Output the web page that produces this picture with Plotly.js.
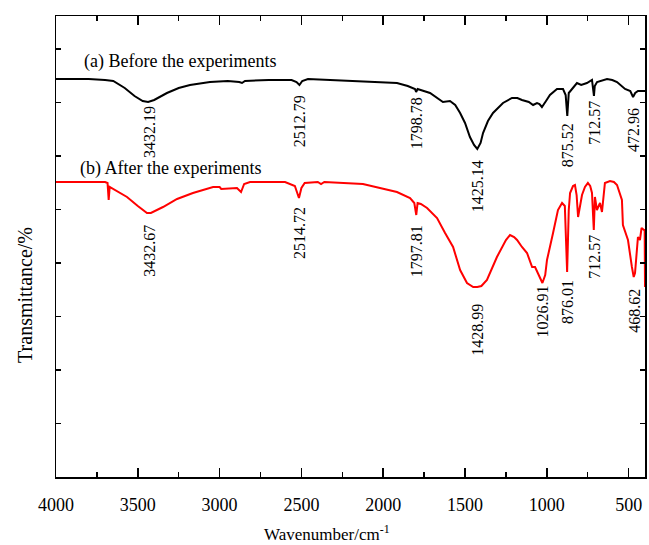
<!DOCTYPE html>
<html>
<head>
<meta charset="utf-8">
<script src="https://cdn.plot.ly/plotly-3.0.1.min.js"></script>
<style>html,body{margin:0;padding:0;background:#fff;}#chart{width:649px;height:545px;}</style>
</head>
<body>
<div id="chart"></div>
<script>
// Wavenumber (cm^-1) and transmittance (arbitrary units)
var wnBefore = [4000,3800,3700,3650,3580,3520,3470,3437,3400,3322,3250,3181,3059,2950,2880,2863,2845,2700,2560,2530,2512,2495,2460,2325,2100,1916,1850,1806,1799,1790,1714,1680,1635,1592,1560,1530,1500,1470,1445,1425,1405,1390,1360,1329,1268,1213,1180,1152,1110,1084,1060,1045,1030,1005,981,938,901,885,875,866,850,816,790,755,724,716,712,707,693,632,600,571,522,490,473,460,443,400];
var tBefore = [398,398,397,396,389,381,376,375,377,384,389,392,395,396,395,394,396,397,397,395,392,396,398,397,396,394,391,388,385,388,384,380,375,376,372,364,354,340,332,328,334,344,356,364,374,379,379,377,375,372,374,373,370,376,382,388,388,382,361,384,387,394,392,394,397,389,381,391,395,398,397,395,388,386,380,384,386,386];

var wnAfter = [4000,3800,3700,3685,3678,3672,3640,3566,3500,3444,3420,3346,3260,3163,3040,3000,2990,2894,2869,2850,2814,2600,2540,2515,2500,2480,2400,2380,2360,2124,1916,1836,1810,1798,1790,1770,1732,1671,1622,1573,1530,1488,1450,1425,1400,1366,1305,1250,1225,1200,1182,1165,1152,1121,1100,1090,1072,1050,1027,1010,999,962,932,907,890,876,866,858,840,828,818,809,800,785,767,749,735,724,713,706,694,675,663,645,614,590,571,541,535,504,480,469,461,443,431,421,406,402,400];
var tAfter = [295,295,295,294,277,290,287,280,271,264,264,270,278,284,290,290,288,289,285,293,295,295,291,279,289,294,295,293,295,293,285,279,274,262,274,273,269,259,244,230,207,194,190,190,191,197,220,237,242,240,237,233,230,224,214,210,210,202,194,202,217,244,267,274,271,205,267,284,291,292,282,260,267,282,290,294,291,284,247,280,267,274,265,294,296,295,292,277,252,237,210,200,204,240,237,249,247,247,190];

var peaksBefore = ["3432.19","2512.79","1798.78","1425.14","875.52","712.57","472.96"];
var peaksAfter = ["3432.67","2514.72","1797.81","1428.99","1026.91","876.01","712.57","468.62"];
var xTicks = [4000,3500,3000,2500,2000,1500,1000,500];
var seriesNames = ["(a) Before the experiments","(b) After the experiments"];
var xTitle = "Wavenumber/cm<sup>-1</sup>";
var yTitle = "Transmittance/%";

// label placement (layout only)
var labelYBefore = [345,356,354,291,332,354,347];
var labelYAfter = [226,244,226,147,166,175,220,166];

var FONT = "Liberation Serif, Times New Roman, serif";

var traces = [
  {x: wnBefore, y: tBefore, mode: 'lines', name: seriesNames[0], line: {color: '#000000', width: 2}},
  {x: wnAfter, y: tAfter, mode: 'lines', name: seriesNames[1], line: {color: '#ff0000', width: 2}}
];

var ann = [];
peaksBefore.forEach(function(p, i){
  ann.push({x: parseFloat(p), y: labelYBefore[i], xref: 'x', yref: 'y', text: p, showarrow: false, textangle: -90, xanchor: 'center', yanchor: 'middle', font: {family: FONT, size: 16, color: '#000'}});
});
peaksAfter.forEach(function(p, i){
  ann.push({x: parseFloat(p), y: labelYAfter[i], xref: 'x', yref: 'y', text: p, showarrow: false, textangle: -90, xanchor: 'center', yanchor: 'middle', font: {family: FONT, size: 16, color: '#000'}});
});
ann.push({x: 3841, y: 416, xref: 'x', yref: 'y', text: seriesNames[0], showarrow: false, xanchor: 'left', yanchor: 'middle', font: {family: FONT, size: 18, color: '#000'}});
ann.push({x: 3866, y: 309, xref: 'x', yref: 'y', text: seriesNames[1], showarrow: false, xanchor: 'left', yanchor: 'middle', font: {family: FONT, size: 18, color: '#000'}});
// axis titles (placed as in the reference, slightly off-centre)
ann.push({x: 0.46, y: -0.121, xref: 'paper', yref: 'paper', text: xTitle, showarrow: false, xanchor: 'center', yanchor: 'middle', font: {family: FONT, size: 17, color: '#000'}});
ann.push({x: -0.0526, y: 0.395, xref: 'paper', yref: 'paper', text: yTitle, showarrow: false, textangle: -90, xanchor: 'center', yanchor: 'middle', font: {family: FONT, size: 20, color: '#000'}});

var yTicks = [];
for (var k = 0; k <= 8; k++) yTicks.push(k * 53.5);

var layout = {
  width: 649, height: 545,
  margin: {l: 56, r: 4, t: 16, b: 68},
  paper_bgcolor: '#fff', plot_bgcolor: '#fff',
  showlegend: false,
  font: {family: FONT, color: '#000'},
  xaxis: {
    range: [4000, 400], tickvals: xTicks, ticktext: xTicks.map(String),
    ticks: 'inside', ticklen: 9, tickwidth: 1.5, tickcolor: '#000',
    minor: {dtick: 250, tick0: 0, ticks: 'inside', ticklen: 5, tickwidth: 1.5, tickcolor: '#000'},
    showline: true, linecolor: '#000', linewidth: 1.5, mirror: 'allticks',
    showgrid: false, zeroline: false,
    tickfont: {family: FONT, size: 18, color: '#000'},
    ticklabelstandoff: 11
  },
  yaxis: {
    range: [0, 461], tickvals: yTicks, showticklabels: false,
    ticks: 'inside', ticklen: 5, tickwidth: 1.5, tickcolor: '#000',
    showline: true, linecolor: '#000', linewidth: 1.5, mirror: 'allticks',
    showgrid: false, zeroline: false
  },
  annotations: ann
};

Plotly.newPlot('chart', traces, layout, {displayModeBar: false, staticPlot: true});
</script>
</body>
</html>
